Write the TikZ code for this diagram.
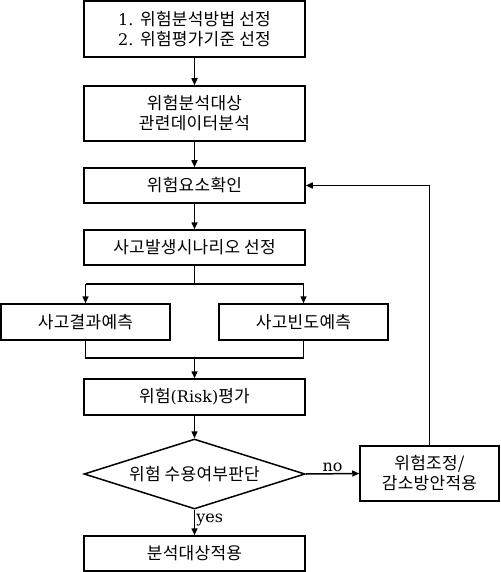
\documentclass[tikz,border=0pt]{standalone}
\usepackage{fontspec}
\setmainfont{DejaVu Serif}
\newfontfamily\kr[LetterSpace=1.5]{Noto Sans CJK KR}
\newcommand\K[1]{{\fontsize{17}{20}\kr #1}}
\usetikzlibrary{shapes.geometric,arrows.meta}
\begin{document}
\begin{tikzpicture}[x=1pt,y=1pt,
  every node/.style={font=\fontsize{16}{20}\selectfont},
  box/.style={draw,line width=1.5pt,inner sep=0pt,align=center,minimum width=221pt},
  ln/.style={line width=1.5pt},
  arr/.style={line width=1.5pt,-{Triangle[length=7pt,width=6pt]}},
  lbl/.style={inner sep=1pt}]
\useasboundingbox (0,0) rectangle (500,-572);
\node[box,minimum height=56pt] (b1) at (194.5,-29) {1. \K{위험분석방법 선정}\\2. \K{위험평가기준 선정}};
\node[box,minimum height=55pt] (b2) at (194.5,-113.5) {\K{위험분석대상}\\\K{관련데이터분석}};
\node[box,minimum height=35pt] (b3) at (194.5,-185.5) {\K{위험요소확인}};
\node[box,minimum height=35pt] (b4) at (194.5,-247.5) {\K{사고발생시나리오 선정}};
\node[box,minimum width=169pt,minimum height=36pt] (b5) at (85.5,-322) {\K{사고결과예측}};
\node[box,minimum width=169pt,minimum height=36pt] (b6) at (303.5,-322) {\K{사고빈도예측}};
\node[box,minimum height=36pt] (b7) at (194.5,-397) {\K{위험}(Risk)\K{평가}};
\node[draw,line width=1.5pt,diamond,aspect=3.157,minimum width=221pt,minimum height=70pt,inner sep=0pt] (d) at (194.5,-474) {\K{위험 수용여부판단}};
\node[box,minimum width=139pt,minimum height=55pt] (r) at (429.5,-473.5) {\K{위험조정/}\\\K{감소방안적용}};
\node[box,minimum height=35pt] (b8) at (194.5,-553.5) {\K{분석대상적용}};
\coordinate (split) at (194.5,-284);
\coordinate (merge) at (194.5,-358);
\draw[arr] (b1) -- (b2);
\draw[arr] (b2) -- (b3);
\draw[arr] (b3) -- (b4);
\draw[ln] (b4.south) -- (split);
\draw[ln] (b5.north |- split) -- (b6.north |- split);
\draw[arr] (b5.north |- split) -- (b5.north);
\draw[arr] (b6.north |- split) -- (b6.north);
\draw[ln] (b5.south) -- (b5.south |- merge) -- (b6.south |- merge) -- (b6.south);
\draw[arr] (merge) -- (b7.north);
\draw[arr] (b7) -- (d.north);
\draw[arr] (d.east) -- node[lbl,above] {no} (r.west);
\draw[arr] (r.north) -- (r.north |- b3.east) -- (b3.east);
\draw[arr] (d.south) -- node[lbl,right,pos=0.4] {yes} (b8.north);
\end{tikzpicture}
\end{document}
